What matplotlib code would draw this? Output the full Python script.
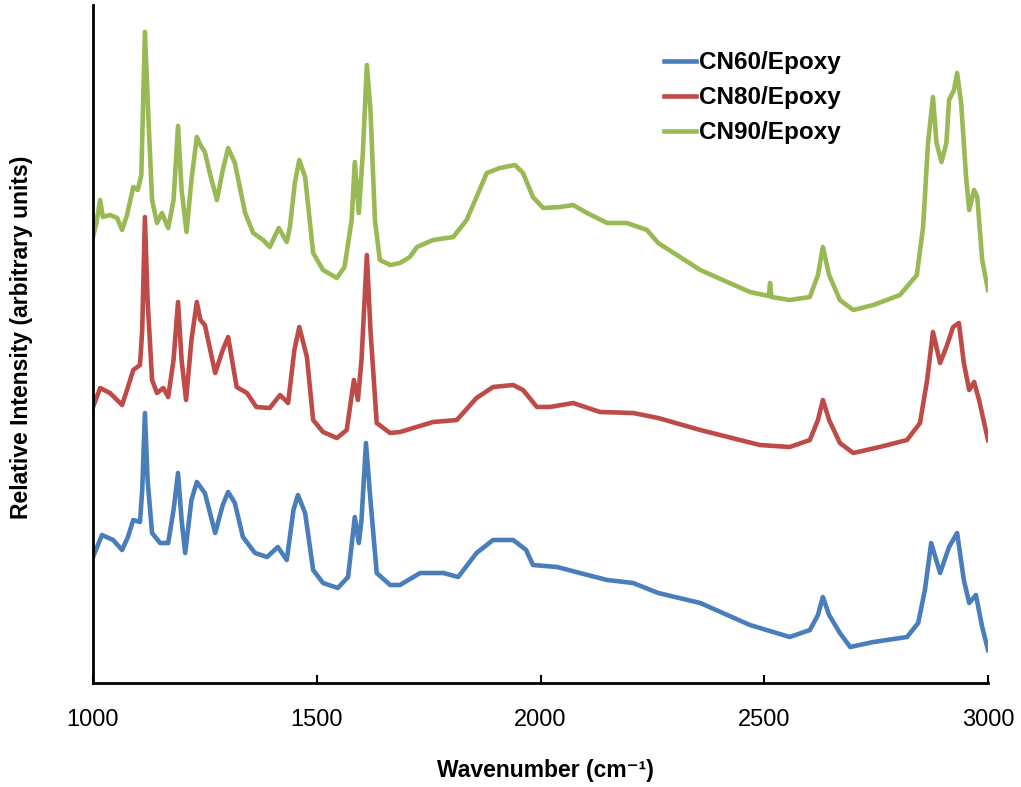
import numpy as np
import matplotlib
matplotlib.use("Agg")
import matplotlib.pyplot as plt

plt.rcParams['font.family'] = ['Liberation Sans', 'DejaVu Sans']

# values (pixel heights from the top), converted below
TOP = 683

wn_90 = [1000, 1008, 1016, 1022, 1038, 1054, 1065, 1076, 1090, 1100, 1108, 1116, 1124, 1132,
         1143, 1154, 1168, 1180, 1190, 1198, 1209, 1220, 1232, 1240, 1250, 1262, 1277, 1290,
         1302, 1317, 1340, 1358, 1380, 1395, 1415, 1433, 1440, 1451, 1461, 1474, 1492, 1514,
         1545, 1562, 1578, 1585, 1594, 1603, 1612, 1620, 1630, 1641, 1664, 1686, 1708, 1724,
         1760, 1805, 1835, 1857, 1880, 1909, 1943, 1961, 1983, 2006, 2044, 2073, 2104, 2149,
         2193, 2238, 2263, 2357, 2468, 2510, 2513, 2516, 2557, 2602, 2620, 2631, 2645, 2669,
         2699, 2744, 2803, 2841, 2855, 2866, 2877, 2885, 2896, 2907, 2913, 2924, 2931, 2940,
         2951, 2958, 2969, 2976, 2987, 3000]
px_90 = [237, 222, 200, 217, 215, 218, 230, 215, 187, 190, 175, 32, 120, 200,
         223, 213, 228, 200, 126, 190, 232, 180, 137, 145, 152, 175, 200, 170,
         148, 163, 213, 233, 240, 247, 228, 242, 227, 183, 160, 177, 253, 270,
         278, 267, 220, 162, 213, 153, 65, 110, 220, 260, 265, 263, 257, 247,
         240, 237, 220, 197, 173, 168, 165, 173, 197, 208, 207, 205, 213, 223,
         223, 230, 243, 270, 292, 296, 283, 297, 300, 297, 275, 247, 275, 300,
         310, 305, 295, 275, 227, 143, 97, 143, 162, 143, 100, 90, 73, 103,
         177, 210, 190, 197, 260, 290]

wn_80 = [1000, 1016, 1038, 1065, 1076, 1090, 1105, 1110, 1116, 1122, 1132, 1143, 1157, 1168,
         1180, 1190, 1198, 1208, 1220, 1232, 1240, 1250, 1273, 1290, 1302, 1321, 1344, 1365,
         1395, 1418, 1436, 1450, 1461, 1478, 1492, 1514, 1545, 1567, 1583, 1592, 1600, 1612,
         1620, 1634, 1664, 1686, 1760, 1813, 1857, 1894, 1939, 1961, 1992, 2021, 2073, 2133,
         2207, 2263, 2357, 2490, 2557, 2602, 2620, 2631, 2645, 2669, 2699, 2758, 2819, 2848,
         2864, 2877, 2893, 2907, 2922, 2935, 2946, 2958, 2969, 2980, 3000]
px_80 = [407, 388, 393, 405, 390, 370, 365, 330, 217, 300, 380, 393, 388, 397,
         360, 302, 360, 400, 340, 302, 320, 325, 373, 350, 337, 387, 393, 407,
         408, 395, 403, 350, 327, 357, 420, 432, 438, 430, 380, 400, 360, 255,
         330, 423, 433, 432, 422, 420, 398, 387, 385, 390, 407, 407, 403, 412,
         413, 418, 430, 445, 447, 440, 420, 400, 420, 443, 453, 447, 440, 423,
         380, 332, 363, 347, 327, 323, 363, 390, 382, 400, 440]

wn_60 = [1000, 1020, 1045, 1065, 1078, 1090, 1105, 1110, 1116, 1122, 1132, 1150, 1168, 1180,
         1190, 1198, 1206, 1220, 1232, 1250, 1273, 1290, 1302, 1317, 1335, 1362, 1389, 1413,
         1433, 1448, 1458, 1474, 1492, 1514, 1547, 1570, 1585, 1594, 1600, 1610, 1620, 1634,
         1664, 1686, 1731, 1783, 1816, 1857, 1894, 1939, 1968, 1983, 2037, 2088, 2149, 2207,
         2263, 2357, 2468, 2557, 2602, 2620, 2631, 2645, 2669, 2692, 2744, 2819, 2844, 2859,
         2873, 2893, 2913, 2931, 2946, 2958, 2973, 2987, 3000]
px_60 = [557, 535, 540, 550, 537, 520, 522, 490, 413, 480, 533, 543, 543, 510,
         473, 520, 553, 500, 482, 493, 533, 505, 492, 503, 537, 553, 557, 547,
         560, 510, 495, 513, 570, 583, 588, 577, 517, 543, 520, 443, 500, 573,
         585, 585, 573, 573, 577, 553, 540, 540, 550, 565, 567, 573, 580, 583,
         593, 603, 625, 637, 630, 615, 597, 615, 633, 647, 642, 637, 623, 590,
         543, 573, 547, 533, 580, 603, 595, 627, 650]

labels = ['CN60/Epoxy', 'CN80/Epoxy', 'CN90/Epoxy']
colors = ['#4A7EBB', '#BE4B48', '#98B954']

fig = plt.figure(figsize=(10.21, 7.87), dpi=100)
ax = fig.add_axes([93 / 1021, 1 - 683 / 787, 895 / 1021, 678 / 787])

series = [(wn_60, px_60), (wn_80, px_80), (wn_90, px_90)]
for (wn, px), lab, col in zip(series, labels, colors):
    ax.plot(wn, TOP - np.array(px), color=col, lw=3.3, label=lab,
            solid_joinstyle='round')

ax.set_xlim(1000, 3000)
ax.set_ylim(0, 678)
ax.set_xticks([1000, 1500, 2000, 2500, 3000])
ax.set_yticks([])
ax.tick_params(axis='x', direction='in', length=6, width=1.5, labelsize=17, pad=19)
for s in ['top', 'right']:
    ax.spines[s].set_visible(False)
for s in ['left', 'bottom']:
    ax.spines[s].set_linewidth(2.0)

fig.text(545 / 1021, 1 - 770 / 787, 'Wavenumber (cm\u207b\u00b9)', fontsize=16.5,
         fontweight='bold', ha='center', va='center')
fig.text(22 / 1021, 1 - 337 / 787, 'Relative Intensity (arbitrary units)', fontsize=16.5,
         fontweight='bold', ha='center', va='center', rotation=90)

leg = ax.legend(loc='upper left', bbox_to_anchor=(0.624, 0.95), frameon=False,
                prop={'size': 17.5, 'weight': 'bold'}, handlelength=1.35,
                handletextpad=0.12, labelspacing=0.5, borderpad=0)

fig.savefig('out.png', dpi=100)
